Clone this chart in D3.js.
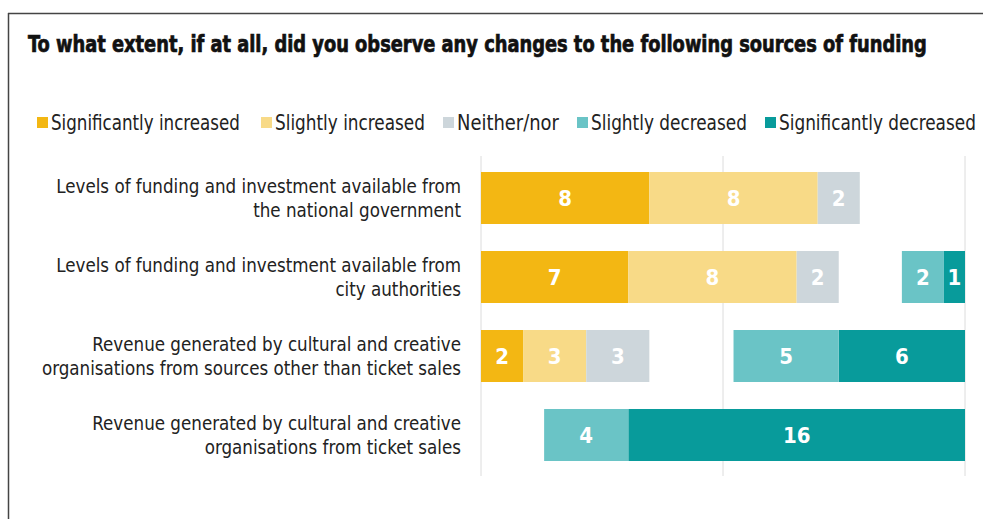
<!DOCTYPE html>
<html>
<head>
<meta charset="utf-8">
<script src="https://cdn.jsdelivr.net/npm/d3@7/dist/d3.min.js"></script>
<style>
  html, body { margin: 0; padding: 0; background: #fff; }
  svg { display: block; }
</style>
</head>
<body>
<svg id="chart" width="983" height="519"></svg>
<script>
// Survey questions, one per row (line breaks as drawn)
const categories = [
  ["Levels of funding and investment available from", "the national government"],
  ["Levels of funding and investment available from", "city authorities"],
  ["Revenue generated by cultural and creative", "organisations from sources other than ticket sales"],
  ["Revenue generated by cultural and creative", "organisations from ticket sales"]
];

// Response counts per row
const significantlyIncreased = [8, 7, 2, 0];
const slightlyIncreased      = [8, 8, 3, 0];
const neitherNor             = [2, 2, 3, 0];
const slightlyDecreased      = [0, 2, 5, 4];
const significantlyDecreased = [0, 1, 6, 16];

const legendLabels = ["Significantly increased", "Slightly increased", "Neither/nor", "Slightly decreased", "Significantly decreased"];
const colors = ["#F3B713", "#F8DA87", "#CDD6DB", "#6AC4C6", "#089B9B"];

// Axis extent in respondents and the gridline positions
const xMax = 23;
const gridTicks = [0, 11.5, 23];

const title = "To what extent, if at all, did you observe any changes to the following sources of funding";

const svg = d3.select("#chart");
const W = 983, H = 519;

// Frame lines (top and left)
svg.append("line").attr("x1", 8).attr("x2", W).attr("y1", 13.5).attr("y2", 13.5)
  .attr("stroke", "#444").attr("stroke-width", 1.5);
svg.append("line").attr("x1", 8.5).attr("x2", 8.5).attr("y1", 13).attr("y2", H)
  .attr("stroke", "#444").attr("stroke-width", 1.5);

const condensed = "'Liberation Sans Narrow', 'DejaVu Sans Condensed', 'Roboto Condensed', sans-serif";

// Place a text in a group at (x, y) and squeeze it horizontally to the given width
function squeezedText(parent, x, y, w, str, attrs) {
  const g = parent.append("g");
  const t = g.append("text").attr("x", 0).attr("y", 0).text(str);
  Object.entries(attrs).forEach(([k, v]) => t.attr(k, v));
  const len = t.node().getComputedTextLength();
  const sx = len > 0 ? Math.min(1, w / len) : 1;
  g.attr("transform", `translate(${x},${y}) scale(${sx},1)`);
  return t;
}

// Title
squeezedText(svg, 28, 52, 899, title, {
  "font-family": condensed, "font-weight": "bold", "font-size": 23,
  "fill": "#111", "stroke": "#111", "stroke-width": 0.7
});

// Legend
const legendX = [37, 261, 443, 577, 765];
const legendW = [189, 150, 102, 156, 197];
const legend = svg.append("g");
legendLabels.forEach((lab, i) => {
  legend.append("rect")
    .attr("x", legendX[i]).attr("y", 117)
    .attr("width", 11).attr("height", 11)
    .attr("fill", colors[i]);
  squeezedText(legend, legendX[i] + 14, 129.5, legendW[i], lab, {
    "font-family": condensed, "font-size": 20.5, "fill": "#222"
  });
});

// Scales
const x = d3.scaleLinear().domain([0, xMax]).range([481, 965]);
const y = d3.scaleBand().domain(d3.range(categories.length))
  .range([158.5, 474.5]).paddingInner(0.342).paddingOuter(0.171);

// Gridlines
svg.append("g").selectAll("line").data(gridTicks).join("line")
  .attr("x1", d => x(d)).attr("x2", d => x(d))
  .attr("y1", 156).attr("y2", 476)
  .attr("stroke", "#dcdcdc").attr("stroke-width", 1);

// Build segments: increases stack from the left edge, decreases from the right edge
const segments = [];
categories.forEach((c, i) => {
  let acc = 0;
  [significantlyIncreased, slightlyIncreased, neitherNor].forEach((arr, k) => {
    segments.push({ row: i, k, v: arr[i], x0: acc, x1: acc + arr[i] });
    acc += arr[i];
  });
  let right = xMax;
  [[significantlyDecreased, 4], [slightlyDecreased, 3]].forEach(([arr, k]) => {
    segments.push({ row: i, k, v: arr[i], x0: right - arr[i], x1: right });
    right -= arr[i];
  });
});
const shown = segments.filter(s => s.v > 0);

svg.append("g").selectAll("rect").data(shown).join("rect")
  .attr("x", d => x(d.x0))
  .attr("width", d => x(d.x1) - x(d.x0))
  .attr("y", d => y(d.row))
  .attr("height", y.bandwidth())
  .attr("fill", d => colors[d.k]);

svg.append("g").selectAll("text").data(shown).join("text")
  .attr("x", d => (x(d.x0) + x(d.x1)) / 2)
  .attr("y", d => y(d.row) + y.bandwidth() / 2 + 7.5)
  .attr("text-anchor", "middle")
  .attr("font-family", condensed)
  .attr("font-weight", "bold")
  .attr("font-size", 22)
  .attr("fill", "#fff")
  .text(d => d.v);

// Row labels
const labels = svg.append("g");
categories.forEach((lines, i) => {
  const cy = y(i) + y.bandwidth() / 2;
  const t = labels.append("text")
    .attr("text-anchor", "end")
    .attr("font-family", condensed)
    .attr("font-size", 18.6)
    .attr("fill", "#222");
  lines.forEach((ln, j) => {
    t.append("tspan").attr("x", 461).attr("y", cy - 5 + j * 24).text(ln);
  });
});
</script>
</body>
</html>
